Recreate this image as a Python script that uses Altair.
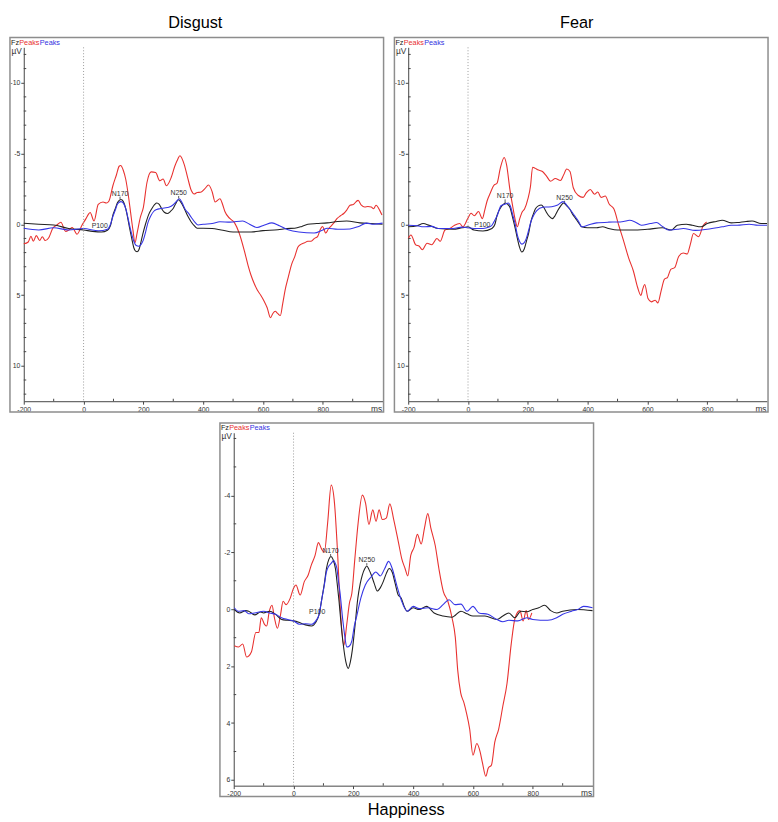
import altair as alt
import pandas as pd

# ---------------- data (ms, µV) ----------------
DIS_RED = [(-200,1.38),(-185,1.25),(-176,0.85),(-168,1.2),(-158,0.8),(-147,1.15),(-138,0.88),(-128,1.15),(-117,0.97),
           (-103,0.28),(-89,0.05),(-76,-0.14),(-60,0.5),(-49,0.4),(-38,0.23),(-22,0.7),(-5,0.05),(8,-0.4),(16,-0.7),
           (22,-0.83),(35,-0.23),(49,-1.4),(65,-1.57),(76,-1.5),(85,-1.65),(98,-2.72),(110,-3.5),(119,-4.1),(124,-4.15),
           (133,-3.8),(141,-3.18),(150,-2.0),(157,-0.88),(165,0.4),(172,1.3),(179,0.62),(190,-0.5),(200,-1.2),
           (212,-2.95),(226,-3.7),(241,-3.65),(255,-3.07),(266,-3.2),(277,-2.72),(293,-3.3),(305,-4.1),(315,-4.6),
           (322,-4.84),(337,-4.2),(348,-3.3),(360,-2.4),(370,-2.14),(380,-2.25),(391,-2.26),(405,-2.5),(418,-2.77),
           (430,-2.3),(440,-1.57),(456,-1.8),(465,-1.4),(473,-0.88),(489,-0.41),(505,-0.1),(520,0.6),(538,1.9),
           (550,2.9),(560,3.6),(571,4.2),(581,4.65),(592,5.0),(603,5.4),(614,5.9),(625,6.6),(633,6.3),(641,6.15),
           (649,6.3),(658,6.45),(666,5.6),(674,4.65),(685,3.7),(696,2.81),(706,2.3),(717,1.6),(728,1.4),(739,1.31),
           (750,1.2),(761,1.2),(772,1.0),(783,0.85),(791,0.4),(799,0.16),(810,0.62),(818,0.35),(826,0.16),(837,-0.1),
           (848,-0.41),(859,-0.6),(870,-0.76),(880,-1.0),(891,-1.34),(902,-1.4),(918,-1.69),(929,-1.35),(940,-1.22),
           (951,-1.25),(962,-1.22),(970,-1.1),(978,-1.34),(990,-1.0),(998,-0.65)]
DIS_BLACK = [(-200,-0.07),(-150,0.0),(-100,0.05),(-50,0.3),(0,0.4),(30,0.5),(60,0.55),(80,0.42),(90,0.1),(98,-0.65),
             (106,-1.1),(114,-1.55),(125,-1.75),(133,-1.6),(141,-1.1),(148,-0.4),(154,0.28),(161,1.0),(168,1.66),
             (174,1.9),(179,1.94),(185,1.8),(190,1.43),(198,0.7),(207,0.0),(218,-0.7),(228,-1.1),(238,-1.4),
             (245,-1.5),(253,-1.4),(261,-1.1),(270,-0.85),(280,-0.76),(290,-0.9),(299,-1.1),(308,-1.45),(317,-1.73),
             (327,-1.5),(337,-1.1),(348,-0.6),(359,-0.2),(370,0.1),(380,0.28),(400,0.28),(430,0.3),(460,0.4),
             (500,0.55),(530,0.55),(560,0.55),(600,0.45),(650,0.39),(680,0.3),(706,0.28),(730,0.15),(750,0.0),
             (780,-0.05),(815,-0.1),(850,-0.2),(880,-0.23),(924,-0.1),(960,-0.05),(1000,0.0)]
DIS_BLUE = [(-200,0.28),(-150,0.4),(-100,0.25),(-50,0.4),(0,0.3),(50,0.46),(80,0.35),(90,0.0),(98,-0.55),(106,-1.0),
            (114,-1.45),(125,-1.6),(133,-1.5),(141,-1.1),(148,-0.5),(154,0.1),(161,0.7),(168,1.2),(176,1.5),
            (185,1.55),(193,1.4),(200,1.1),(208,0.5),(215,-0.1),(225,-0.6),(235,-0.92),(245,-1.05),(255,-1.1),
            (270,-1.15),(285,-1.2),(300,-1.38),(312,-1.65),(320,-1.8),(330,-1.5),(340,-1.05),(350,-0.8),(360,-0.5),
            (372,-0.15),(383,0.05),(400,0.0),(430,-0.05),(456,-0.18),(490,-0.15),(532,-0.23),(555,0.0),(580,0.23),
            (605,0.05),(630,-0.1),(655,0.1),(684,0.39),(720,0.55),(771,0.62),(800,0.4),(815,0.28),(850,0.35),
            (891,0.33),(920,0.15),(946,-0.08),(970,0.0),(1000,-0.08)]

FEAR_RED = [(-200,1.0),(-191,0.76),(-175,1.45),(-163,1.55),(-153,1.8),(-137,1.34),(-121,1.45),(-104,1.0),(-93,1.2),
            (-77,0.41),(-61,0.3),(-45,0.07),(-28,-0.05),(-17,0.18),(-1,-0.4),(10,-0.78),(21,-0.6),(35,-0.9),(48,-0.4),
            (56,-1.0),(64,-1.66),(75,-2.23),(86,-2.74),(97,-2.9),(108,-3.96),(121,-4.72),(129,-4.2),(140,-2.46),
            (151,-1.08),(158,-0.3),(165,0.18),(173,-0.4),(182,-0.9),(189,-1.08),(200,-1.77),(209,-2.7),(216,-4.03),
            (225,-3.95),(233,-3.85),(249,-3.73),(263,-3.39),(276,-3.04),(292,-3.23),(309,-3.09),(320,-3.5),
            (330,-3.9),(341,-3.73),(352,-2.58),(368,-2.05),(385,-1.9),(396,-2.24),(409,-2.46),(423,-2.12),
            (434,-2.28),(445,-1.9),(459,-2.0),(472,-1.43),(488,-1.08),(504,0.07),(521,1.22),(537,2.37),(553,3.3),
            (567,4.45),(578,5.02),(584,4.6),(591,4.26),(602,5.25),(613,5.48),(626,5.37),(635,5.55),(646,4.68),
            (657,3.87),(667,3.76),(678,3.18),(691,3.06),(705,2.26),(720,2.03),(733,2.1),(743,1.45),(754,0.65),
            (771,0.88),(787,0.07),(798,-0.16)]
FEAR_BLACK = [(-200,0.18),(-170,0.1),(-150,-0.05),(-130,0.07),(-100,0.3),(-50,0.35),(-20,0.25),(0,0.18),(20,0.41),
              (50,0.48),(80,0.3),(90,0.0),(97,-0.62),(110,-1.2),(118,-1.4),(125,-1.5),(133,-1.4),(140,-1.2),
              (150,-0.4),(158,0.3),(165,1.0),(172,1.6),(180,1.96),(188,1.75),(195,1.22),(203,0.6),(210,-0.16),
              (218,-0.7),(225,-1.08),(235,-1.3),(245,-1.36),(253,-1.2),(262,-0.85),(272,-0.55),(282,-0.4),(291,-0.6),
              (300,-0.97),(310,-1.3),(320,-1.5),(330,-1.3),(340,-1.08),(350,-0.7),(360,-0.4),(370,-0.1),(380,0.18),
              (400,0.25),(430,0.25),(450,0.18),(470,0.3),(500,0.41),(550,0.41),(600,0.35),(650,0.25),(680,0.41),
              (700,0.07),(730,0.0),(750,0.07),(780,0.18),(800,-0.05),(830,-0.2),(850,-0.28),(880,-0.1),(900,-0.12),
              (930,-0.2),(950,-0.23),(980,-0.05),(1000,-0.05)]
FEAR_BLUE = [(-200,0.07),(-170,0.1),(-150,0.18),(-120,0.15),(-100,0.3),(-50,0.3),(-20,0.2),(0,0.25),(30,0.3),(50,0.3),
             (70,0.2),(80,0.07),(90,-0.3),(97,-0.58),(110,-1.31),(120,-1.4),(127,-1.45),(135,-1.5),(143,-1.2),
             (150,-0.62),(158,0.0),(165,0.76),(172,1.2),(180,1.4),(188,1.3),(195,1.0),(203,0.4),(210,-0.16),
             (220,-0.65),(230,-0.97),(250,-1.2),(265,-1.22),(280,-1.24),(300,-1.36),(318,-1.6),(330,-1.35),
             (340,-1.08),(350,-0.8),(360,-0.5),(370,-0.2),(380,0.18),(400,0.07),(430,-0.1),(470,-0.15),(500,-0.16),
             (520,-0.2),(540,-0.28),(560,-0.15),(580,0.07),(610,-0.05),(630,-0.12),(650,0.15),(670,0.41),(700,0.35),
             (720,0.3),(760,0.43),(800,0.35),(850,0.18),(880,0.07),(900,0.07),(940,0.0),(970,0.07),(1000,0.07)]

HAP_RED = [(-198,1.28),(-184,1.33),(-170,1.22),(-157,1.68),(-141,1.5),(-126,0.82),(-116,0.82),(-108,0.3),(-97,0.53),
           (-90,0.59),(-81,0.07),(-72,-0.14),(-64,0.3),(-54,0.67),(-43,0.16),(-35,-0.28),(-25,-0.16),(-11,-0.39),
           (0,-0.74),(8,-0.85),(22,-0.5),(36,-0.97),(49,-1.2),(59,-1.54),(72,-1.89),(83,-2.34),(94,-2.11),
           (103,-2.0),(114,-3.03),(126,-4.36),(137,-3.72),(146,-2.23),(157,0.07),(168,1.28),(178,0.53),(187,-0.22),
           (195,-0.56),(205,-1.77),(216,-3.03),(230,-4.01),(241,-3.72),(252,-2.98),(265,-3.49),(276,-3.09),
           (286,-3.49),(297,-3.15),(310,-3.2),(322,-3.7),(335,-3.15),(351,-2.34),(362,-1.77),(373,-1.43),
           (382,-1.17),(392,-1.89),(403,-2.17),(414,-2.63),(427,-2.29),(438,-2.86),(449,-3.36),(459,-2.86),
           (474,-2.23),(486,-1.43),(501,-0.62),(516,-0.28),(530,0.3),(541,0.99),(549,2.14),(559,2.94),(570,3.29),
           (578,3.63),(589,4.21),(600,5.13),(613,4.72),(624,5.01),(632,5.41),(643,5.87),(651,5.59),(662,5.47),
           (673,4.67),(686,4.21),(700,3.4),(714,2.6),(728,1.22),(741,0.3),(757,0.05),(768,0.41),(778,0.05),
           (786,0.36),(797,0.13)]
HAP_BLACK = [(-198,0.01),(-180,0.13),(-160,0.05),(-150,0.07),(-130,0.2),(-110,0.1),(-100,0.13),(-80,0.07),(-60,0.18),
             (-40,0.36),(-20,0.39),(0,0.41),(20,0.47),(40,0.55),(60,0.59),(75,0.45),(85,0.2),(95,-0.39),(103,-0.9),
             (110,-1.43),(118,-1.75),(125,-1.85),(132,-1.75),(140,-1.43),(146,-0.9),(152,-0.3),(160,0.64),(167,1.3),
             (175,1.85),(183,2.08),(190,1.85),(197,1.4),(205,0.64),(215,-0.39),(223,-0.9),(230,-1.2),(238,-1.42),
             (245,-1.52),(252,-1.4),(260,-1.2),(270,-0.9),(280,-0.64),(290,-0.75),(300,-0.97),(310,-1.25),
             (320,-1.43),(330,-1.3),(340,-0.9),(350,-0.5),(360,-0.39),(370,-0.1),(380,0.07),(400,-0.05),(420,0.01),
             (445,-0.1),(470,0.13),(500,0.24),(530,0.28),(560,0.07),(580,0.16),(600,0.24),(640,0.24),(680,0.36),
             (700,0.24),(720,0.13),(740,0.3),(760,0.07),(780,0.09),(800,0.01),(820,-0.05),(840,-0.14),(860,0.05),
             (880,0.13),(900,0.07),(950,0.01),(1000,0.05)]
HAP_BLUE = [(-198,-0.05),(-185,0.07),(-165,0.05),(-150,0.16),(-130,0.13),(-100,0.07),(-80,0.13),(-60,0.18),(-40,0.3),
            (-20,0.36),(0,0.41),(20,0.53),(40,0.51),(60,0.53),(75,0.4),(85,0.2),(95,-0.39),(103,-0.85),(110,-1.31),
            (118,-1.52),(125,-1.6),(135,-1.71),(140,-1.6),(145,-1.43),(150,-1.0),(155,-0.62),(165,0.41),(172,1.0),
            (178,1.33),(186,1.3),(195,1.11),(203,0.6),(210,0.3),(225,-0.39),(240,-0.85),(260,-1.14),(275,-1.31),
            (290,-1.17),(305,-1.43),(318,-1.68),(330,-1.43),(345,-0.85),(360,-0.33),(380,0.07),(400,-0.1),
            (420,-0.02),(450,-0.05),(480,0.01),(500,-0.16),(520,-0.33),(540,-0.16),(560,-0.18),(580,0.07),
            (600,-0.1),(620,0.13),(650,0.18),(680,0.36),(700,0.44),(720,0.39),(750,0.41),(780,0.3),(800,0.36),
            (850,0.39),(880,0.3),(900,0.18),(930,0.07),(950,0.01),(970,-0.1),(1000,-0.05)]

# peak labels: (label, ms, text-bottom µV, peak µV)
DIS_NOTES = [("N170", 122, -1.95, -1.78), ("N250", 318, -2.0, -1.82), ("P100", 54, 0.32, 0.32)]
FEAR_NOTES = [("N170", 124, -1.76, -1.52), ("N250", 323, -1.66, -1.56), ("P100", 48, 0.24, 0.24)]
HAP_NOTES = [("N170", 124, -1.94, -1.87), ("N250", 245, -1.62, -1.54), ("P100", 79, 0.2, 0.2)]

PANEL_TITLES = ["Disgust", "Fear", "Happiness"]

X_MAJOR = [-200, 0, 200, 400, 600, 800]
X_MINOR = [-100, 100, 300, 500, 700, 900]
TOP_Y_MAJOR = [-10, -5, 0, 5, 10]
TOP_Y_MINOR = [-12, -11, -9, -8, -7, -6, -4, -3, -2, -1, 1, 2, 3, 4, 6, 7, 8, 9, 11, 12]
HAP_Y_MAJOR = [-4, -2, 0, 2, 4, 6]
HAP_Y_MINOR = [-6, -5, -3, -1, 1, 3, 5]

HEADER_TEXT = ["Fz", "Peaks", "Peaks"]
HEADER_COLORS = ["#222222", "#e8312f", "#3333e0"]
SERIES_COLORS = {"red": "#e8312f", "black": "#222222", "blue": "#3535e6"}

FONT = "Liberation Sans"
W = 364
LABEL_EXPR = "datum.value < 0 ? '-' + abs(datum.value) : '' + datum.value"


def panel(name, red, black, blue, ydom, ymajor, yminor, notes, title_pos, title_dx, H):
    xs = alt.Scale(domain=[-200, 1000], nice=False, zero=False)
    ys = alt.Scale(domain=ydom, reverse=True, nice=False, zero=False)
    one = pd.DataFrame({"k": [0]})

    common = dict(labelFlush=False, labelOverlap=False, labelFontSize=7, labelColor="#333", labelFont=FONT,
                  labelPadding=1, labelExpr=LABEL_EXPR, tickSize=3, tickColor="#444", domainColor="#444",
                  domainWidth=1, grid=False, titleFontSize=8.5, titleFontWeight="normal", titleColor="#333",
                  titleFont=FONT, titleBaseline="alphabetic")
    xaxis = alt.Axis(values=X_MAJOR, title="ms", titleX=W - 1, titleY=10, titleAlign="right", **common)
    yaxis = alt.Axis(values=ymajor, title="µV", titleX=-13, titleY=6, titleAngle=0, titleAlign="left", **common)

    layers = []
    first = True
    for key, pts in (("red", red), ("black", black), ("blue", blue)):
        df = pd.DataFrame(pts, columns=["ms", "uv"])
        if first:
            enc = dict(x=alt.X("ms:Q", scale=xs, axis=xaxis), y=alt.Y("uv:Q", scale=ys, axis=yaxis))
        else:
            enc = dict(x=alt.X("ms:Q", scale=xs), y=alt.Y("uv:Q", scale=ys))
        layers.append(alt.Chart(df).mark_line(color=SERIES_COLORS[key], strokeWidth=1.1,
                                              interpolate="monotone").encode(**enc))
        first = False

    zero = alt.Chart(pd.DataFrame({"v": [0]})).mark_rule(
        color="#9a9a9a", strokeDash=[1, 2], strokeWidth=1).encode(x=alt.X("v:Q", scale=xs))

    frame = alt.Chart(one).mark_rect(fill="transparent", stroke="#8d8d8d", strokeWidth=1.5).encode(
        x=alt.value(-14), x2=alt.value(W + 1), y=alt.value(-10), y2=alt.value(H + 11))

    ymin = alt.Chart(pd.DataFrame({"v": yminor})).mark_rule(color="#444", strokeWidth=1).encode(
        y=alt.Y("v:Q", scale=ys), x=alt.value(0), x2=alt.value(2.5))
    xmin = alt.Chart(pd.DataFrame({"v": X_MINOR})).mark_rule(color="#444", strokeWidth=1).encode(
        x=alt.X("v:Q", scale=xs), y=alt.value(H), y2=alt.value(H - 2.5))
    layers += [zero, frame, ymin, xmin]

    ndf = pd.DataFrame(notes, columns=["label", "ms", "uv", "peak"])
    layers.append(alt.Chart(ndf).mark_text(fontSize=7, color="#333", baseline="bottom", font=FONT).encode(
        x=alt.X("ms:Q", scale=xs), y=alt.Y("uv:Q", scale=ys), text="label:N"))
    layers.append(alt.Chart(ndf).mark_rule(color="#333", strokeWidth=0.8).encode(
        x=alt.X("ms:Q", scale=xs), y=alt.Y("uv:Q", scale=ys), y2=alt.Y2("peak:Q")))

    hx = [-13, -4.6, 16.2]
    for t, c, px in zip(HEADER_TEXT, HEADER_COLORS, hx):
        layers.append(alt.Chart(one).mark_text(text=t, color=c, fontSize=7.4, align="left",
                                               baseline="alphabetic", font=FONT).encode(
            x=alt.value(px), y=alt.value(-2.5)))

    ty = -20 if title_pos == "top" else H + 30
    layers.append(alt.Chart(one).mark_text(text=name, fontSize=16.5, font=FONT, color="#000",
                                           align="center", baseline="alphabetic").encode(
        x=alt.value(W / 2 + title_dx), y=alt.value(ty)))

    return alt.layer(*layers).properties(width=W, height=H)


p1 = panel(PANEL_TITLES[0], DIS_RED, DIS_BLACK, DIS_BLUE, [-12.5, 12.5], TOP_Y_MAJOR, TOP_Y_MINOR,
           DIS_NOTES, "top", -8, 359)
p2 = panel(PANEL_TITLES[1], FEAR_RED, FEAR_BLACK, FEAR_BLUE, [-12.5, 12.5], TOP_Y_MAJOR, TOP_Y_MINOR,
           FEAR_NOTES, "top", -11, 359)
p3 = panel(PANEL_TITLES[2], HAP_RED, HAP_BLACK, HAP_BLUE, [-6.2, 6.2], HAP_Y_MAJOR, HAP_Y_MINOR,
           HAP_NOTES, "bottom", -7, 358)

spacer = alt.Chart(pd.DataFrame({"k": [0]})).mark_rect(opacity=0).encode(
    x=alt.value(0), x2=alt.value(196), y=alt.value(0), y2=alt.value(1)).properties(width=196, height=1)

top = alt.hconcat(p1, p2, spacing=7)
bottom = alt.hconcat(spacer, p3, spacing=0)
chart = alt.vconcat(top, bottom, spacing=7).properties(padding=0, background="white").configure_view(
    stroke="transparent").configure_axis(grid=False).configure_text(font=FONT)

chart.save("out.html", embed_options={"renderer": "svg", "actions": False})
